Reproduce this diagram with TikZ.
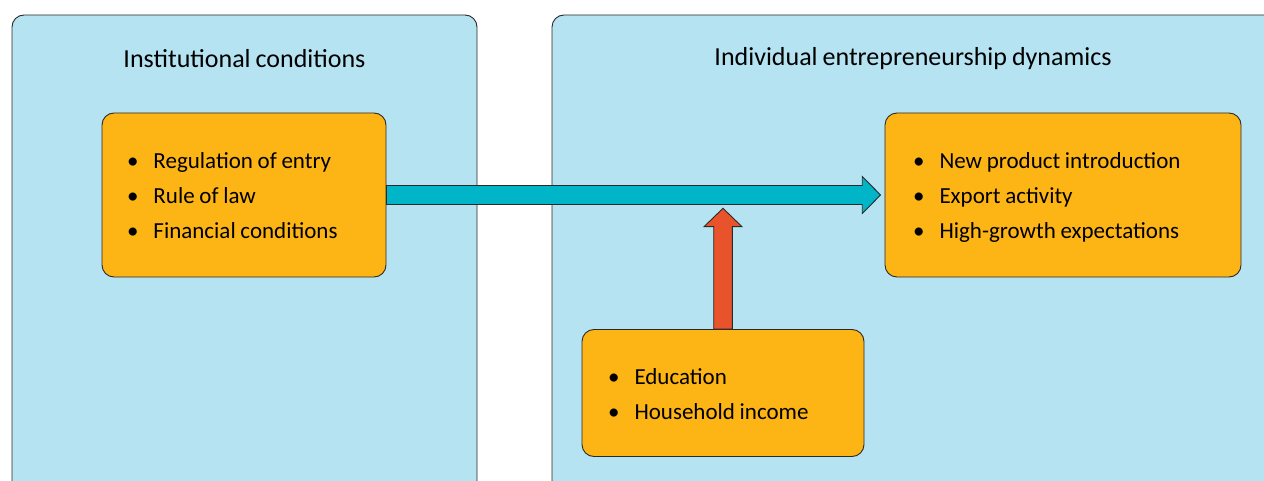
\documentclass[tikz,border=0pt]{standalone}
\usepackage{fontspec}
\setmainfont{Carlito}[WordSpace=0.85]
\usetikzlibrary{calc}
\definecolor{panelblue}{HTML}{B5E3F2}
\definecolor{boxorange}{HTML}{FDB515}
\definecolor{arrowteal}{HTML}{00B5C8}
\definecolor{arrowred}{HTML}{E8532B}
\definecolor{edgedark}{HTML}{2A2A2A}
\newcommand{\bpoint}[1]{\spaceskip=4.7pt\relax\rule[-9pt]{0pt}{35pt}\makebox[26.5pt][l]{\textbullet}#1}
\begin{document}
\begin{tikzpicture}[x=1pt,y=-1pt,
  panel/.style={draw=edgedark, line width=0.9pt, fill=panelblue, rounded corners=12pt},
  paneltitle/.style={font=\fontsize{26pt}{30pt}\selectfont, inner sep=0pt},
  itembox/.style={draw=edgedark, line width=0.9pt, fill=boxorange, rounded corners=12pt,
    align=left, inner ysep=0pt, font=\fontsize{23pt}{35pt}\selectfont},
  bigarrow/.style={draw=edgedark, line width=0.9pt}]
\useasboundingbox (0,0) rectangle (1264,481);
\begin{scope}
  \clip (0,0) rectangle (1264,481);
  \draw[panel] (12,15) rectangle (477,530);
  \draw[panel] (552,15) rectangle (1276,530);
\end{scope}
\node[paneltitle] (t1) at (244.5,58.5) {Institutional conditions};
\node[paneltitle] (t2) at (913,58.5) {Individual entrepreneurship dynamics};
\node[itembox, minimum width=284pt, minimum height=164pt, inner xsep=25pt, text width=234pt] (inst) at (244,195)
  {\bpoint{Regulation of entry}\\\bpoint{Rule of law}\\\bpoint{Financial conditions}};
\node[itembox, minimum width=356pt, minimum height=164pt, inner xsep=28pt, text width=300pt] (outc) at (1063,195)
  {\bpoint{New product introduction}\\\bpoint{Export activity}\\\bpoint{High-growth expectations}};
\node[itembox, minimum width=282pt, minimum height=127pt, inner xsep=26pt, text width=230pt] (edu) at (723,393)
  {\bpoint{Education}\\\bpoint{Household income}};
\path let \p1=(inst.east), \p2=(outc.west) in
  [bigarrow, fill=arrowteal]
  (\x1,\y1+9.5pt) -- (\x2-22.3pt,\y1+9.5pt) -- (\x2-22.3pt,\y1+18.5pt) -- (\x2-4pt,\y1)
  -- (\x2-22.3pt,\y1-18.5pt) -- (\x2-22.3pt,\y1-9.5pt) -- (\x1,\y1-9.5pt) -- cycle;
\coordinate (rtip) at (723,208.3);
\path let \p1=(edu.north), \p2=(rtip) in
  [bigarrow, fill=arrowred]
  (\x1-9.3pt,\y1) -- (\x1-9.3pt,\y2-18.4pt) -- (\x1-19pt,\y2-18.4pt) -- (\x2,\y2)
  -- (\x1+19pt,\y2-18.4pt) -- (\x1+9.3pt,\y2-18.4pt) -- (\x1+9.3pt,\y1) -- cycle;
\end{tikzpicture}
\end{document}
